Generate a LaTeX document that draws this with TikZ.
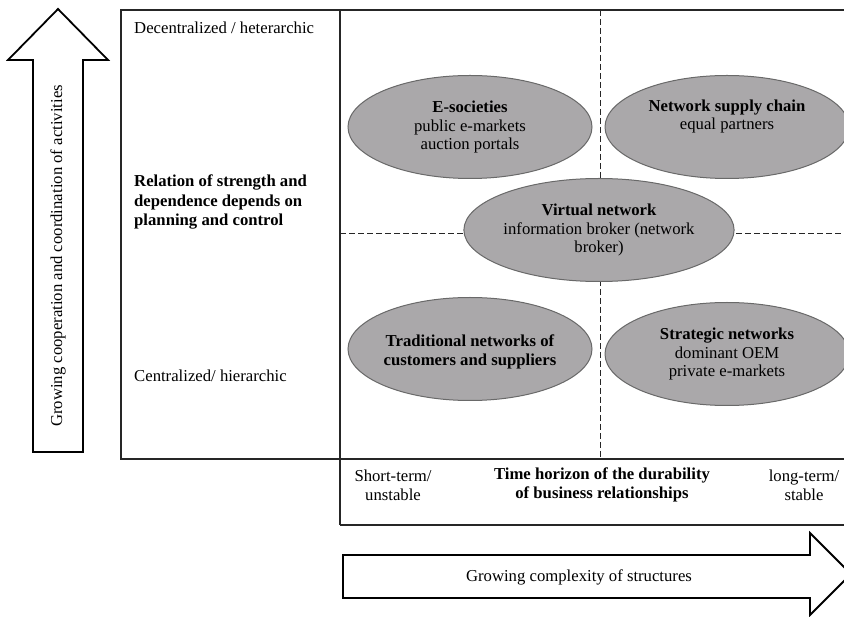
\documentclass[tikz,border=0pt]{standalone}
\usepackage{fontspec}
\setmainfont{Liberation Serif}
\usetikzlibrary{shapes.geometric}
\definecolor{bubblegray}{RGB}{170,168,170}
\definecolor{bubbleedge}{RGB}{105,105,105}
\begin{document}
\begin{tikzpicture}[x=1pt,y=-1pt,
  every node/.style={font=\fontsize{16.7}{18.8}\selectfont, inner sep=0pt},
  frame/.style={draw=black!85, line width=1.3pt},
  gridline/.style={draw=black!85, line width=0.9pt, dash pattern=on 6pt off 3pt},
  bubble/.style={ellipse, draw=bubbleedge, line width=1pt, fill=bubblegray,
    minimum width=244pt, minimum height=103pt, align=center},
  bigarrow/.style={draw=black, line width=1.8pt, fill=white, line join=miter},
  sidelabel/.style={align=left, anchor=west}]
\useasboundingbox (0,0) rectangle (844,617);
\clip (0,0) rectangle (844,617);
\fill[white] (0,0) rectangle (844,617);

% frames of the matrix and its side/bottom panels
\draw[frame] (121,10) rectangle (340,459);
\draw[frame] (340,10) -- (860,10);
\draw[frame] (340,10) -- (340,525);
\draw[frame] (340,459) -- (860,459);
\draw[frame] (340,525) -- (860,525);

% quadrant dividers
\draw[gridline] (600,10) -- (600,459);
\draw[gridline] (340,233) -- (860,233);

% vertical block arrow
\draw[bigarrow] (58,9) -- (108,60) -- (83,60) -- (83,452) -- (33,452)
  -- (33,60) -- (8,60) -- cycle;
\node[rotate=90] (coop) at (58,256) {Growing cooperation and coordination of activities};

% horizontal block arrow
\draw[bigarrow] (343,555) -- (810,555) -- (810,533) -- (851,574) -- (810,615)
  -- (810,598) -- (343,598) -- cycle;
\node (complex) at (579,577) {Growing complexity of structures};

% side panel labels
\node[sidelabel] (dec) at (134,28) {Decentralized / heterarchic};
\node[sidelabel, font=\fontsize{16.7}{19.5}\selectfont\bfseries] (rel) at (134,202)
  {Relation of strength and\\dependence depends on\\planning and control};
\node[sidelabel] (cen) at (134,376) {Centralized/ hierarchic};

% bottom panel labels
\node[align=center] (short) at (393,485) {Short-term/\\unstable};
\node[align=center, font=\fontsize{16.7}{18.8}\selectfont\bfseries] (time) at (602,485)
  {Time horizon of the durability\\of business relationships};
\node[align=center] (long) at (804,485) {long-term/\\stable};

% network types
\node[bubble] (esoc) at (470,127) {\textbf{E-societies}\\public e-markets\\auction portals};
\node[bubble] (nsc) at (727,127) {\textbf{Network supply chain}\\equal partners\\\strut};
\node[bubble] (virt) at (599,230) {\textbf{Virtual network}\\information broker (network\\broker)};
\node[bubble] (trad) at (470,349) {};
\node[align=center, font=\fontsize{16.7}{18.8}\selectfont\bfseries] (tradtext)
  at ([yshift=-3pt]trad.center) {Traditional networks of\\customers and suppliers};
\node[bubble] (strat) at (727,354) {\textbf{Strategic networks}\\dominant OEM\\private e-markets};
\end{tikzpicture}
\end{document}
